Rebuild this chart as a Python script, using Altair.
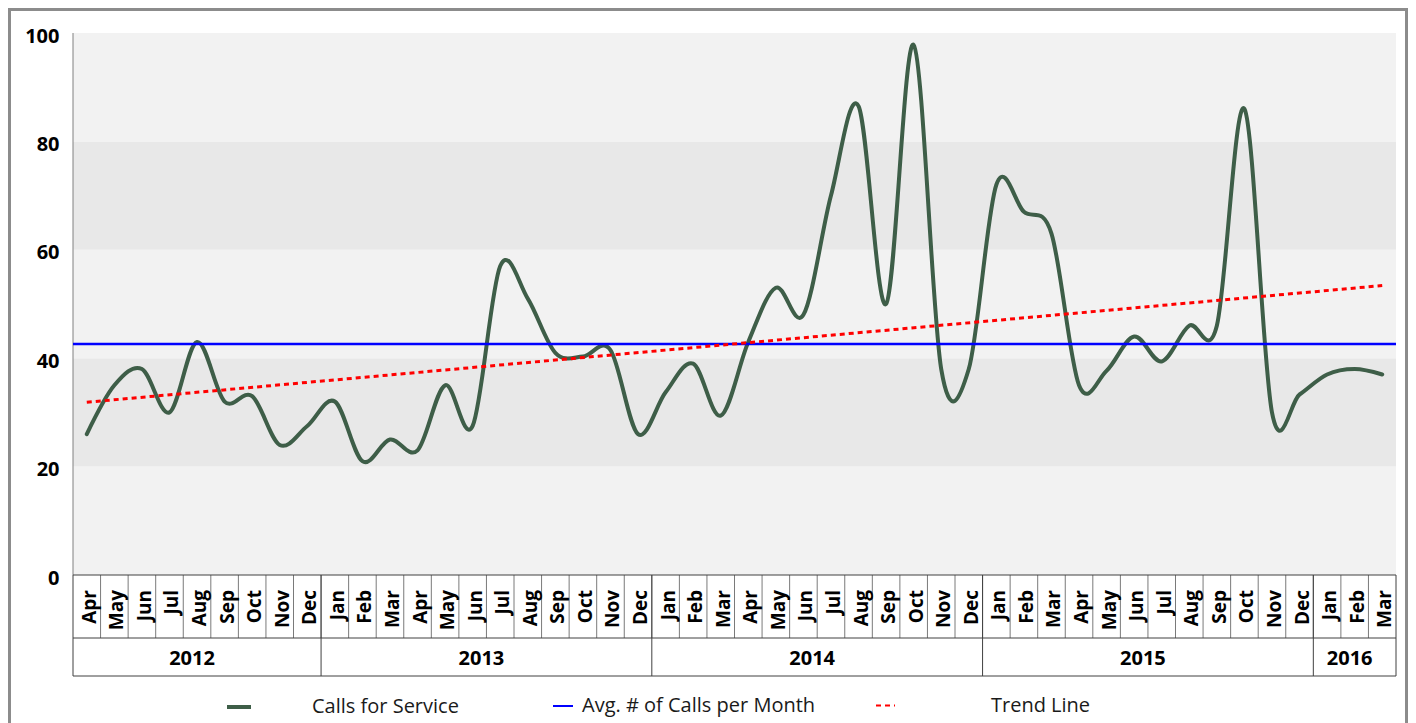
import altair as alt
import numpy as np
import pandas as pd

# ---------------- data ----------------
months = ["Apr", "May", "Jun", "Jul", "Aug", "Sep", "Oct", "Nov", "Dec",
          "Jan", "Feb", "Mar", "Apr", "May", "Jun", "Jul", "Aug", "Sep", "Oct", "Nov", "Dec",
          "Jan", "Feb", "Mar", "Apr", "May", "Jun", "Jul", "Aug", "Sep", "Oct", "Nov", "Dec",
          "Jan", "Feb", "Mar", "Apr", "May", "Jun", "Jul", "Aug", "Sep", "Oct", "Nov", "Dec",
          "Jan", "Feb", "Mar"]
years = [2012] * 9 + [2013] * 12 + [2014] * 12 + [2015] * 12 + [2016] * 3
calls = [26, 35, 38, 30, 43, 32, 33, 24, 27.5,
         32, 21, 25, 23, 35, 27.5, 57, 51, 41, 40.3, 41.5, 26,
         33.7, 39, 29.4, 43, 53, 48, 70, 86.5, 50, 97.8, 38, 38,
         72, 67, 63, 35, 37.7, 44, 39.4, 46, 46, 86, 30, 33.3,
         37, 38, 37]
y_ticks = [0, 20, 40, 60, 80, 100]
band_lo = [0, 20, 40, 60, 80]
band_hi = [20, 40, 60, 80, 100]
series_names = ["Calls for Service", "Avg. # of Calls per Month", "Trend Line"]

# ---------------- layout (pixels) ----------------
FONT = "Open Sans"
PAD_L = 65                      # room for the y labels, left of the plot
W, H = 1335, 715                # view size (plot starts at view x = 0)
PLOT_R, PLOT_T, PLOT_B = 1323, 25, 567
n = len(calls)
px_x = PLOT_R / n
px_y = (PLOT_B - PLOT_T) / 100.0
XMIN = -0.5
XMAX = n - 0.5 + (W - PLOT_R) / px_x
YMAX = 100 + PLOT_T / px_y
YMIN = -(H - PLOT_B) / px_y
MONTH_ROW_BOTTOM = -63 / px_y
YEAR_ROW_BOTTOM = -101 / px_y
MONTH_LABEL_Y = -15 / px_y
YEAR_LABEL_Y = -84 / px_y
LEFT_EDGE = -0.5
RIGHT_EDGE = n - 0.5

idx = np.arange(n)
df = pd.DataFrame({"idx": idx, "month": months,
                   "year": [str(y) for y in years], "calls": calls})
slope, intercept = np.polyfit(idx, np.array(calls, dtype=float), 1)
avg = float(np.mean(calls))

xs = alt.Scale(domain=[XMIN, XMAX], nice=False, zero=False)
ys = alt.Scale(domain=[YMIN, YMAX], nice=False, zero=False)

yaxis = alt.Axis(values=y_ticks, domain=False, ticks=False, grid=False,
                 labelFont=FONT, labelFontWeight="bold", labelFontSize=20,
                 labelColor="black", labelPadding=14,
                 labelOffset=3, labelFlush=False, labelOverlap=False)


def X(f):
    return alt.X(f, type="quantitative", scale=xs, axis=None, title=None)


def Y(f):
    # every layer carries the same axis definition so that the shared axis merges cleanly
    return alt.Y(f, type="quantitative", scale=ys, axis=yaxis, title=None)


edges = f"{LEFT_EDGE}", f"{RIGHT_EDGE}"

bands = alt.Chart(pd.DataFrame({"lo": band_lo, "hi": band_hi})).mark_rect().transform_calculate(
    x0=edges[0], x1=edges[1]
).encode(
    x=X("x0:Q"), x2="x1:Q", y=Y("lo:Q"), y2="hi:Q",
    fill=alt.condition("datum.lo % 40 == 0", alt.value("#F2F2F2"), alt.value("#E8E8E8")),
)

axis_line = alt.Chart(pd.DataFrame({"lo": [y_ticks[0]], "hi": [y_ticks[-1]]})).mark_rule(
    color="#808080", strokeWidth=1
).transform_calculate(x0=edges[0]).encode(x=X("x0:Q"), y=Y("lo:Q"), y2="hi:Q")

# frame around the whole chart
FRAME = dict(color="#8C8C8C", strokeWidth=2.5)
frame_l = alt.Chart(df).mark_rule(**FRAME).encode(
    x=alt.value(-PAD_L + 1.2), y=alt.value(0), y2=alt.value(H))
frame_t = alt.Chart(df).mark_rule(**FRAME).encode(
    x=alt.value(-PAD_L), x2=alt.value(W), y=alt.value(1.2))
frame_r = alt.Chart(df).mark_rule(**FRAME).encode(
    x=alt.value(W - 1.3), y=alt.value(0), y2=alt.value(H))

# category table below the plot
month_sep = alt.Chart(df).transform_filter("datum.idx > 0").transform_calculate(
    bx="datum.idx - 0.5", t="0", b=f"{MONTH_ROW_BOTTOM}"
).mark_rule(color="#7a7a7a", strokeWidth=1).encode(x=X("bx:Q"), y=Y("t:Q"), y2="b:Q")

year_sep = alt.Chart(df).transform_aggregate(first="min(idx)", groupby=["year"]).transform_calculate(
    bx="datum.first - 0.5", t="0", b=f"{YEAR_ROW_BOTTOM}"
).mark_rule(color="#404040", strokeWidth=1).encode(x=X("bx:Q"), y=Y("t:Q"), y2="b:Q")

right_border = alt.Chart(df).transform_aggregate(last="max(idx)").transform_calculate(
    bx="datum.last + 0.5", t="0", b=f"{YEAR_ROW_BOTTOM}"
).mark_rule(color="#404040", strokeWidth=1).encode(x=X("bx:Q"), y=Y("t:Q"), y2="b:Q")

hlines = alt.Chart(pd.DataFrame({"hy": [0.0, MONTH_ROW_BOTTOM, YEAR_ROW_BOTTOM]})).transform_calculate(
    x0=edges[0], x1=edges[1]
).mark_rule(color="#404040", strokeWidth=1).encode(x=X("x0:Q"), x2="x1:Q", y=Y("hy:Q"))

month_text = alt.Chart(df).transform_calculate(ly=f"{MONTH_LABEL_Y}").mark_text(
    angle=270, align="right", baseline="middle", font=FONT, fontWeight="bold",
    fontSize=19, color="black", xOffset=3
).encode(x=X("idx:Q"), y=Y("ly:Q"), text="month:N")

year_text = alt.Chart(df).transform_aggregate(cx="mean(idx)", groupby=["year"]).transform_calculate(
    ly=f"{YEAR_LABEL_Y}"
).mark_text(
    align="center", baseline="middle", font=FONT, fontWeight="bold", fontSize=20, color="black",
    xOffset=-5
).encode(x=X("cx:Q"), y=Y("ly:Q"), text="year:N")


def leg(x, y, size, sw, offset, **kw):
    return alt.Legend(title=None, orient="none", legendX=x - PAD_L, legendY=y, symbolType="stroke",
                      symbolSize=size, symbolStrokeWidth=sw, labelOffset=offset,
                      labelFont=FONT, labelFontSize=20, labelColor="#1a1a1a",
                      labelLimit=500, padding=0, **kw)


calls_line = alt.Chart(df).transform_calculate(series=f"'{series_names[0]}'").mark_line(
    interpolate="cardinal", strokeWidth=4, strokeCap="round", strokeJoin="round"
).encode(
    x=X("idx:Q"), y=Y("calls:Q"),
    stroke=alt.Stroke("series:N", scale=alt.Scale(domain=[series_names[0]], range=["#3E5E48"]),
                      legend=leg(217, 685, 576, 4, 59)),
)

avg_rule = alt.Chart(pd.DataFrame({"series": [series_names[1]], "avg": [avg]})).transform_calculate(
    x0=edges[0], x1=edges[1]
).mark_rule(strokeWidth=2.5).encode(
    x=X("x0:Q"), x2="x1:Q", y=Y("avg:Q"),
    color=alt.Color("series:N", scale=alt.Scale(domain=[series_names[1]], range=["#0000FF"]),
                    legend=leg(544, 687, 400, 2, 8)),
)

trend_df = pd.DataFrame({"idx": [0, n - 1],
                         "trend": [intercept, intercept + slope * (n - 1)],
                         "series": [series_names[2]] * 2})
trend_line = alt.Chart(trend_df).mark_line(color="#FF0000", strokeWidth=3).encode(
    x=X("idx:Q"), y=Y("trend:Q"),
    strokeDash=alt.StrokeDash("series:N", scale=alt.Scale(domain=[series_names[2]], range=[[5, 4]]),
                              legend=leg(867, 687, 361, 2, 95, symbolStrokeColor="#FF0000")),
)

chart = alt.layer(
    bands, axis_line, month_sep, year_sep, right_border, hlines, month_text, year_text,
    calls_line, avg_rule, trend_line, frame_l, frame_t, frame_r
).properties(
    width=W, height=H, autosize=alt.AutoSizeParams(type="none"),
    padding={"left": PAD_L, "top": 0, "right": 0, "bottom": 0}, background="white"
).configure_view(stroke=None)

chart.save("out.html", embed_options={"renderer": "svg", "actions": False})
